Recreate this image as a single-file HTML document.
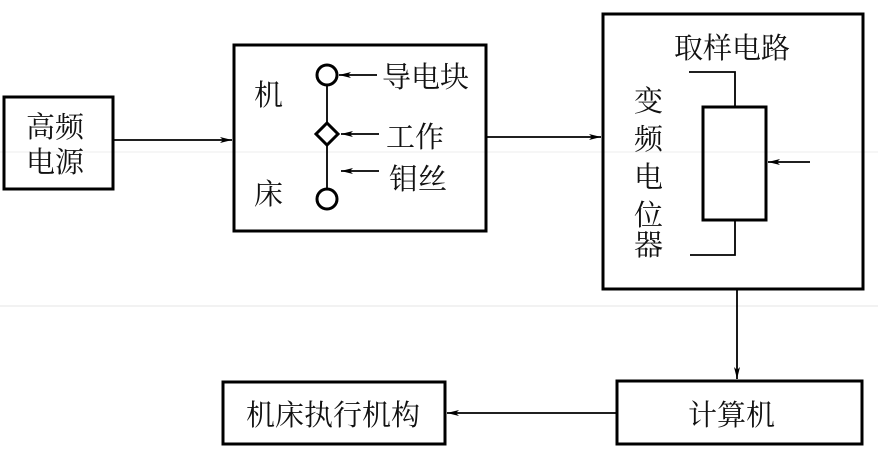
<!DOCTYPE html>
<html><head><meta charset="utf-8"><style>
body{margin:0;background:#fff}
svg{display:block}
text{font-family:"Liberation Serif","Noto Serif CJK SC",serif;fill:#111}
</style></head><body>
<svg width="878" height="462" viewBox="0 0 878 462" xmlns="http://www.w3.org/2000/svg">
<defs><marker id="a" viewBox="0 0 12 6" refX="12" refY="3" markerWidth="12" markerHeight="6" orient="auto" markerUnits="userSpaceOnUse"><path d="M0,0 L12,3 L0,6 L3,3 z" fill="#000"/></marker></defs>
<line x1="0" y1="152" x2="878" y2="152" stroke="#eee"/>
<line x1="0" y1="306" x2="878" y2="306" stroke="#e4e4e4"/>
<g fill="none" stroke="#000" stroke-width="3">
<rect x="4" y="97" width="109" height="92"/>
<rect x="234" y="45" width="252" height="186"/>
<rect x="603" y="14" width="260" height="275"/>
<rect x="703" y="107" width="63" height="113"/>
<rect x="617" y="381" width="245" height="63"/>
<rect x="223" y="382" width="222" height="62"/>
</g>
<g fill="none" stroke="#000" stroke-width="1.8">
<line x1="113" y1="140" x2="232" y2="140" marker-end="url(#a)"/>
<line x1="487" y1="137" x2="601" y2="137" marker-end="url(#a)"/>
<line x1="737" y1="290" x2="737" y2="379" marker-end="url(#a)"/>
<line x1="616" y1="413" x2="447" y2="413" marker-end="url(#a)"/>
<line x1="810" y1="162" x2="768" y2="162" marker-end="url(#a)"/>
<line x1="377" y1="75" x2="339" y2="75" marker-end="url(#a)"/>
<line x1="379" y1="134" x2="341" y2="134" marker-end="url(#a)"/>
<line x1="379" y1="171" x2="341" y2="171" marker-end="url(#a)"/>
<polyline points="689,72 735,72 735,107"/>
<polyline points="735,220 735,255 690,255"/>
<line x1="327" y1="85" x2="327" y2="123"/>
<line x1="327" y1="144" x2="327" y2="188"/>
</g>
<g fill="#fff" stroke="#000" stroke-width="3">
<circle cx="327" cy="75" r="10"/>
<circle cx="327" cy="199" r="10"/>
<path d="M327,123 L338,134 L327,145 L316,134 z"/>
</g>
<g font-size="29">
<text x="26" y="137">高频</text>
<text x="26" y="172">电源</text>
<text x="254" y="105">机</text>
<text x="254" y="204">床</text>
<text x="382" y="87">导电块</text>
<text x="386" y="147">工作</text>
<text x="389" y="189">钼丝</text>
<text x="674" y="58">取样电路</text>
<text x="634" y="111">变</text>
<text x="634" y="149">频</text>
<text x="634" y="187">电</text>
<text x="634" y="225">位</text>
<text x="634" y="255">器</text>
<text x="688" y="425">计算机</text>
<text x="246" y="425">机床执行机构</text>
</g>
</svg>
</body></html>
